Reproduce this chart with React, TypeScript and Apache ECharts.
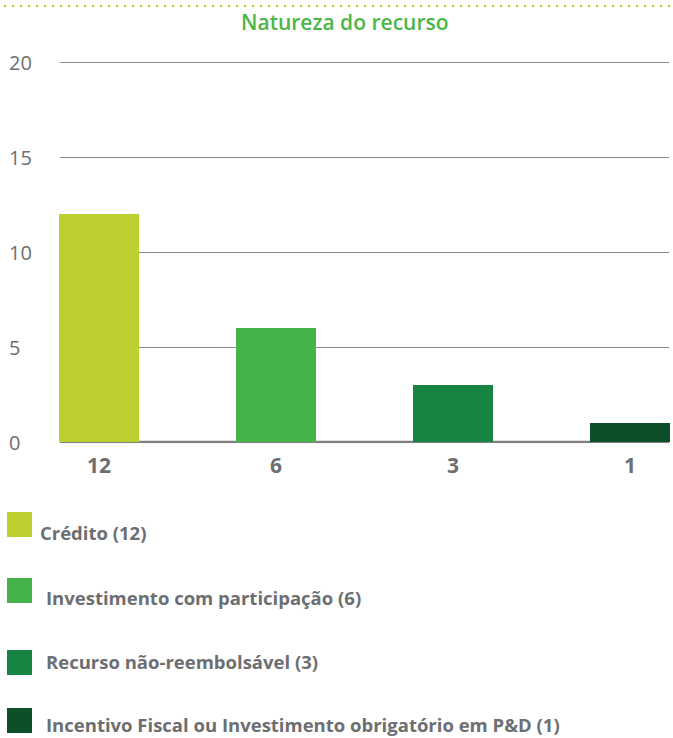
import React, { useEffect, useRef } from "react";
import * as echarts from "echarts";

const TITLE = "Natureza do recurso";
const categories = [
  "Crédito",
  "Investimento com participação",
  "Recurso não-reembolsável",
  "Incentivo Fiscal ou Investimento obrigatório em P&D",
];
const values = [12, 6, 3, 1];
const colors = ["#bdd030", "#45b34a", "#178443", "#0d4f28"];
const yMin = 0;
const yMax = 20;
const yStep = 5;

const legendSquareY = [512, 578, 650, 708];
const legendTextX = [40, 46, 46, 46];
const legendTextY = [532, 597, 661, 724];

const FONT = "'Open Sans', 'Noto Sans', sans-serif";
const GRAY = "#6d6e71";

export default function App() {
  const ref = useRef<HTMLDivElement>(null);
  useEffect(() => {
    if (!ref.current) return;
    const chart = echarts.init(ref.current, undefined, { renderer: "svg" });
    const legendGraphics: any[] = [];
    categories.forEach((c, i) => {
      legendGraphics.push({
        type: "rect",
        shape: { x: 7, y: legendSquareY[i], width: 25, height: 25 },
        style: { fill: colors[i] },
      });
      legendGraphics.push({
        type: "text",
        x: legendTextX[i],
        y: legendTextY[i],
        style: {
          text: `${c} (${values[i]})`,
          fill: GRAY,
          font: `bold 18.5px ${FONT}`,
          verticalAlign: "middle",
        },
      });
    });
    chart.setOption({
      animation: false,
      backgroundColor: "#ffffff",
      title: {
        text: TITLE,
        left: 236,
        top: 6,
        textStyle: { fontFamily: FONT, fontSize: 21, fontWeight: 600, color: "#4cb648" },
      },
      graphic: [
        {
          type: "line",
          shape: { x1: 5, y1: 6, x2: 670, y2: 6 },
          style: { stroke: "#bdd231", lineWidth: 2.5, lineDash: [0, 8], lineCap: "round" },
        },
        ...legendGraphics,
      ],
      grid: [
        { left: 60, right: 4, top: 62, height: 380 },
        { left: 99, right: 43, top: 62, height: 380 },
      ],
      xAxis: [
        {
          gridIndex: 0,
          type: "value",
          min: 0,
          max: 1,
          axisLine: { show: false },
          axisTick: { show: false },
          axisLabel: { show: false },
          splitLine: { show: false },
        },
        {
          gridIndex: 1,
          type: "category",
          boundaryGap: false,
          data: categories,
          axisLine: { show: false },
          axisTick: { show: false },
          axisLabel: {
            margin: 12,
            fontFamily: FONT,
            fontSize: 21,
            fontWeight: "bold",
            color: GRAY,
            formatter: (_v: string, idx: number) => String(values[idx]),
          },
        },
      ],
      yAxis: [
        {
          gridIndex: 0,
          type: "value",
          min: yMin,
          max: yMax,
          interval: yStep,
          axisLine: { show: false },
          axisTick: { show: false },
          axisLabel: {
            align: "left",
            margin: 51,
            padding: [0, 0, 11, 0],
            fontFamily: FONT,
            fontSize: 20,
            color: GRAY,
          },
          splitLine: { lineStyle: { color: "#8a8a8a", width: 1 } },
        },
        {
          gridIndex: 1,
          type: "value",
          min: yMin,
          max: yMax,
          interval: yStep,
          show: false,
        },
      ],
      series: [
        {
          type: "line",
          xAxisIndex: 0,
          yAxisIndex: 0,
          data: [
            [0, 0],
            [1, 0],
          ],
          symbol: "none",
          lineStyle: { color: "#808080", width: 2.5 },
          z: 1,
          silent: true,
        },
        {
          type: "bar",
          xAxisIndex: 1,
          yAxisIndex: 1,
          barWidth: 80,
          clip: false,
          data: values.map((v, i) => ({ value: v, itemStyle: { color: colors[i] } })),
          z: 2,
        },
      ],
    });
    return () => chart.dispose();
  }, []);
  return (
    <div
      ref={ref}
      style={{ position: "absolute", left: 0, top: 0, width: 673, height: 738 }}
    />
  );
}
